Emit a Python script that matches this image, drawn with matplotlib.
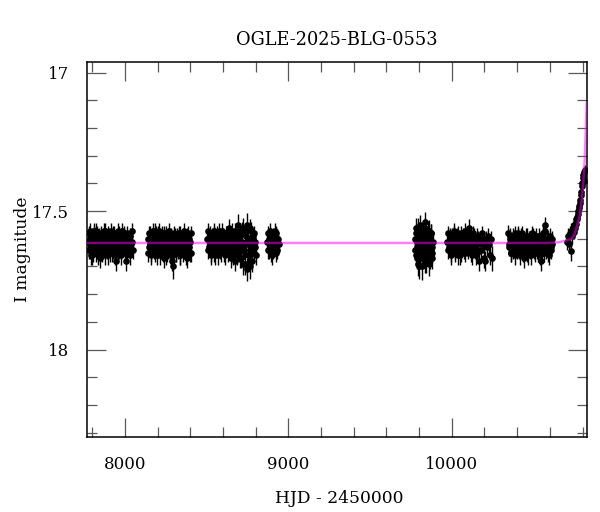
import numpy as np
import matplotlib
matplotlib.use("Agg")
import matplotlib.pyplot as plt
from matplotlib.ticker import MultipleLocator, FuncFormatter

plt.rcParams['font.family'] = ['DejaVu Serif']

# ---------------- data ----------------
# season 1 (two nightly sets)
t1 = [7775, 7781, 7786, 7790, 7795, 7799, 7803, 7808, 7812, 7817, 7821, 7826,
      7832, 7838, 7843, 7849, 7855, 7861, 7866, 7872, 7878, 7884, 7890, 7895,
      7901, 7907, 7913, 7919, 7925, 7931, 7937, 7943, 7949, 7955, 7961, 7967,
      7973, 7979, 7985, 7991, 7997, 8003, 8010, 8017, 8024, 8031, 8038, 8045]
m1 = [17.61, 17.58, 17.64, 17.62, 17.59, 17.66, 17.60, 17.63, 17.57, 17.62, 17.65, 17.60,
      17.58, 17.63, 17.61, 17.67, 17.59, 17.62, 17.64, 17.60, 17.57, 17.63, 17.61, 17.66,
      17.59, 17.62, 17.60, 17.65, 17.58, 17.63, 17.61, 17.68, 17.60, 17.57, 17.64, 17.62,
      17.59, 17.66, 17.61, 17.63, 17.58, 17.62, 17.65, 17.60, 17.63, 17.59, 17.62, 17.61]
e1 = [0.030, 0.028, 0.032, 0.030, 0.027, 0.035, 0.030, 0.031, 0.026, 0.030, 0.034, 0.029,
      0.028, 0.032, 0.030, 0.036, 0.027, 0.030, 0.033, 0.029, 0.026, 0.031, 0.030, 0.035,
      0.028, 0.030, 0.029, 0.034, 0.027, 0.031, 0.030, 0.037, 0.029, 0.026, 0.033, 0.030,
      0.028, 0.035, 0.030, 0.031, 0.027, 0.030, 0.034, 0.029, 0.031, 0.028, 0.030, 0.030]
t1b = [7778, 7784, 7788, 7793, 7797, 7801, 7806, 7810, 7815, 7819, 7824, 7829,
       7835, 7841, 7846, 7852, 7858, 7864, 7869, 7875, 7881, 7887, 7893, 7898,
       7904, 7910, 7916, 7922, 7928, 7934, 7940, 7946, 7952, 7958, 7964, 7970,
       7976, 7982, 7988, 7994, 8000, 8006, 8013, 8020, 8027, 8034, 8041, 8048]
m1b = [17.64, 17.60, 17.57, 17.66, 17.62, 17.59, 17.65, 17.58, 17.63, 17.60, 17.57, 17.64,
       17.66, 17.59, 17.62, 17.58, 17.65, 17.60, 17.57, 17.63, 17.66, 17.59, 17.64, 17.58,
       17.62, 17.65, 17.57, 17.61, 17.64, 17.58, 17.66, 17.60, 17.63, 17.65, 17.58, 17.60,
       17.64, 17.57, 17.62, 17.59, 17.65, 17.68, 17.58, 17.63, 17.60, 17.66, 17.57, 17.64]
e1b = [0.033, 0.029, 0.027, 0.035, 0.030, 0.028, 0.034, 0.027, 0.031, 0.029, 0.026, 0.033,
       0.035, 0.028, 0.030, 0.027, 0.034, 0.029, 0.026, 0.031, 0.035, 0.028, 0.033, 0.027,
       0.030, 0.034, 0.026, 0.030, 0.033, 0.027, 0.035, 0.029, 0.031, 0.034, 0.027, 0.029,
       0.033, 0.026, 0.030, 0.028, 0.034, 0.038, 0.027, 0.031, 0.029, 0.035, 0.026, 0.033]

# season 2
t2 = [8142, 8147, 8152, 8157, 8162, 8167, 8172, 8177, 8182, 8187, 8192, 8197,
      8202, 8207, 8212, 8217, 8222, 8227, 8232, 8237, 8242, 8247, 8252, 8257,
      8262, 8267, 8272, 8277, 8282, 8287, 8292, 8297, 8302, 8307, 8313, 8319,
      8325, 8331, 8337, 8343, 8349, 8355, 8361, 8367, 8373, 8379, 8385, 8391,
      8397, 8403]
m2 = [17.60, 17.63, 17.58, 17.62, 17.65, 17.59, 17.61, 17.64, 17.57, 17.62, 17.60, 17.66,
      17.58, 17.63, 17.61, 17.59, 17.64, 17.62, 17.60, 17.67, 17.58, 17.63, 17.61, 17.65,
      17.59, 17.62, 17.60, 17.64, 17.66, 17.68, 17.70, 17.61, 17.63, 17.59, 17.65, 17.60,
      17.62, 17.58, 17.66, 17.61, 17.63, 17.59, 17.64, 17.60, 17.62, 17.67, 17.58, 17.63,
      17.61, 17.65]
e2 = [0.030, 0.031, 0.027, 0.030, 0.034, 0.028, 0.030, 0.033, 0.026, 0.030, 0.029, 0.035,
      0.027, 0.031, 0.030, 0.028, 0.033, 0.030, 0.029, 0.036, 0.027, 0.031, 0.030, 0.034,
      0.028, 0.030, 0.029, 0.033, 0.035, 0.038, 0.045, 0.030, 0.031, 0.028, 0.034, 0.029,
      0.030, 0.027, 0.035, 0.030, 0.031, 0.028, 0.033, 0.029, 0.030, 0.036, 0.027, 0.031,
      0.030, 0.034]
t2b = [8144, 8149, 8154, 8159, 8164, 8169, 8174, 8179, 8184, 8189, 8194, 8199,
       8204, 8209, 8214, 8219, 8224, 8229, 8234, 8239, 8244, 8249, 8254, 8259,
       8264, 8269, 8274, 8279, 8284, 8289, 8294, 8299, 8304, 8310, 8316, 8322,
       8328, 8334, 8340, 8346, 8352, 8358, 8364, 8370, 8376, 8382, 8388, 8394,
       8400, 8406]
m2b = [17.65, 17.58, 17.62, 17.66, 17.59, 17.63, 17.57, 17.61, 17.65, 17.58, 17.64, 17.60,
       17.63, 17.57, 17.66, 17.62, 17.58, 17.61, 17.65, 17.59, 17.63, 17.66, 17.58, 17.60,
       17.64, 17.57, 17.65, 17.61, 17.59, 17.63, 17.66, 17.58, 17.62, 17.65, 17.59, 17.64,
       17.61, 17.66, 17.58, 17.63, 17.60, 17.65, 17.57, 17.62, 17.66, 17.59, 17.63, 17.60,
       17.65, 17.58]
e2b = [0.034, 0.027, 0.030, 0.035, 0.028, 0.031, 0.026, 0.030, 0.034, 0.027, 0.033, 0.029,
       0.031, 0.026, 0.035, 0.030, 0.027, 0.030, 0.034, 0.028, 0.031, 0.035, 0.027, 0.029,
       0.033, 0.026, 0.034, 0.030, 0.028, 0.031, 0.035, 0.027, 0.030, 0.034, 0.028, 0.033,
       0.030, 0.035, 0.027, 0.031, 0.029, 0.034, 0.026, 0.030, 0.035, 0.028, 0.031, 0.029,
       0.034, 0.027]

# season 3
t3 = [8503, 8509, 8515, 8521, 8527, 8533, 8539, 8545, 8551, 8557, 8563, 8569,
      8575, 8581, 8587, 8593, 8599, 8605, 8611, 8617, 8623, 8629, 8635, 8641,
      8647, 8653, 8659, 8665, 8671, 8677, 8683, 8689, 8695, 8701, 8707, 8713,
      8719, 8725, 8731, 8737, 8743, 8749, 8755, 8761, 8767, 8773, 8779, 8785,
      8791, 8797]
m3 = [17.60, 17.57, 17.63, 17.61, 17.65, 17.59, 17.62, 17.58, 17.66, 17.60, 17.63, 17.61,
      17.57, 17.64, 17.60, 17.62, 17.59, 17.65, 17.61, 17.58, 17.63, 17.60, 17.56, 17.64,
      17.62, 17.59, 17.66, 17.61, 17.57, 17.63, 17.60, 17.55, 17.65, 17.62, 17.58, 17.67,
      17.61, 17.56, 17.64, 17.69, 17.59, 17.55, 17.66, 17.62, 17.70, 17.57, 17.64, 17.60,
      17.58, 17.63]
e3 = [0.030, 0.027, 0.031, 0.030, 0.034, 0.028, 0.030, 0.027, 0.035, 0.029, 0.031, 0.030,
      0.026, 0.033, 0.029, 0.030, 0.028, 0.034, 0.030, 0.027, 0.031, 0.029, 0.030, 0.033,
      0.030, 0.028, 0.035, 0.030, 0.026, 0.031, 0.029, 0.040, 0.034, 0.030, 0.027, 0.036,
      0.030, 0.035, 0.033, 0.040, 0.028, 0.042, 0.035, 0.030, 0.045, 0.030, 0.033, 0.029,
      0.027, 0.031]
t3b = [8506, 8512, 8518, 8524, 8530, 8536, 8542, 8548, 8554, 8560, 8566, 8572,
       8578, 8584, 8590, 8596, 8602, 8608, 8614, 8620, 8626, 8632, 8638, 8644,
       8650, 8656, 8662, 8668, 8674, 8680, 8686, 8692, 8698, 8704, 8710, 8716,
       8722, 8728, 8734, 8740, 8746, 8752, 8758, 8764, 8770, 8776, 8782, 8788,
       8794, 8800]
m3b = [17.64, 17.60, 17.58, 17.66, 17.61, 17.63, 17.57, 17.65, 17.59, 17.62, 17.58, 17.66,
       17.63, 17.59, 17.65, 17.57, 17.62, 17.60, 17.66, 17.63, 17.58, 17.65, 17.61, 17.59,
       17.67, 17.57, 17.62, 17.64, 17.68, 17.58, 17.66, 17.62, 17.59, 17.67, 17.63, 17.57,
       17.69, 17.64, 17.58, 17.62, 17.71, 17.60, 17.66, 17.56, 17.63, 17.68, 17.59, 17.65,
       17.61, 17.66]
e3b = [0.033, 0.029, 0.027, 0.035, 0.030, 0.031, 0.026, 0.034, 0.028, 0.030, 0.027, 0.035,
       0.031, 0.028, 0.034, 0.026, 0.030, 0.029, 0.035, 0.031, 0.027, 0.034, 0.030, 0.028,
       0.036, 0.027, 0.030, 0.033, 0.037, 0.027, 0.035, 0.031, 0.029, 0.037, 0.032, 0.030,
       0.039, 0.034, 0.029, 0.032, 0.042, 0.031, 0.036, 0.033, 0.032, 0.039, 0.029, 0.034,
       0.030, 0.035]

# season 4
t4 = [8870, 8876, 8882, 8888, 8894, 8900, 8906, 8912, 8918, 8924, 8930, 8936, 8940]
m4 = [17.61, 17.58, 17.64, 17.62, 17.59, 17.66, 17.60, 17.63, 17.57, 17.65, 17.61, 17.60, 17.62]
e4 = [0.030, 0.028, 0.032, 0.030, 0.028, 0.034, 0.029, 0.031, 0.027, 0.033, 0.030, 0.029, 0.030]
t4b = [8873, 8879, 8885, 8891, 8897, 8903, 8909, 8915, 8921, 8927, 8933]
m4b = [17.64, 17.60, 17.57, 17.65, 17.62, 17.59, 17.64, 17.61, 17.63, 17.58, 17.64]
e4b = [0.032, 0.029, 0.027, 0.033, 0.030, 0.028, 0.032, 0.030, 0.031, 0.027, 0.032]

# season 5
t5 = [9775, 9779, 9783, 9787, 9791, 9795, 9799, 9803, 9807, 9811, 9815, 9819,
      9823, 9827, 9831, 9835, 9839, 9843, 9847, 9851, 9855, 9859, 9863, 9867,
      9871, 9875, 9879, 9883]
m5 = [17.60, 17.66, 17.56, 17.63, 17.69, 17.58, 17.62, 17.67, 17.55, 17.64, 17.60, 17.70,
      17.57, 17.65, 17.61, 17.68, 17.54, 17.63, 17.59, 17.66, 17.62, 17.57, 17.69, 17.60,
      17.64, 17.58, 17.67, 17.61]
e5 = [0.035, 0.040, 0.034, 0.036, 0.045, 0.033, 0.036, 0.040, 0.035, 0.037, 0.034, 0.048,
      0.033, 0.038, 0.035, 0.042, 0.036, 0.036, 0.034, 0.039, 0.036, 0.038, 0.044, 0.035,
      0.037, 0.034, 0.040, 0.035]
t5b = [9777, 9781, 9785, 9789, 9793, 9797, 9801, 9805, 9809, 9813, 9817, 9821,
       9825, 9829, 9833, 9837, 9841, 9845, 9849, 9853, 9857, 9861, 9865, 9869,
       9873, 9877, 9881]
m5b = [17.64, 17.58, 17.67, 17.61, 17.56, 17.65, 17.70, 17.60, 17.63, 17.58, 17.67, 17.62,
       17.66, 17.59, 17.56, 17.63, 17.68, 17.61, 17.65, 17.57, 17.60, 17.64, 17.62, 17.67,
       17.58, 17.63, 17.65]
e5b = [0.037, 0.034, 0.040, 0.035, 0.034, 0.038, 0.046, 0.035, 0.036, 0.033, 0.040, 0.035,
       0.039, 0.034, 0.036, 0.036, 0.042, 0.035, 0.038, 0.034, 0.035, 0.044, 0.036, 0.040,
       0.034, 0.036, 0.038]

# season 6
t6 = [9972, 9978, 9984, 9990, 9996, 10002, 10008, 10014, 10020, 10026, 10032, 10038,
      10044, 10050, 10056, 10062, 10068, 10074, 10080, 10086, 10092, 10098, 10104, 10110,
      10116, 10122, 10128, 10134, 10140, 10146, 10152, 10158, 10164, 10170, 10176, 10182,
      10188, 10194, 10200, 10206, 10212, 10218, 10224, 10230, 10236, 10242, 10248]
m6 = [17.61, 17.58, 17.63, 17.60, 17.65, 17.59, 17.62, 17.57, 17.64, 17.61, 17.59, 17.63,
      17.60, 17.66, 17.58, 17.62, 17.60, 17.64, 17.57, 17.61, 17.63, 17.59, 17.56, 17.62,
      17.65, 17.60, 17.58, 17.63, 17.61, 17.66, 17.59, 17.62, 17.68, 17.60, 17.64, 17.58,
      17.62, 17.67, 17.61, 17.68, 17.60, 17.63, 17.59, 17.62, 17.66, 17.60, 17.67]
e6 = [0.030, 0.027, 0.031, 0.029, 0.033, 0.028, 0.030, 0.026, 0.032, 0.030, 0.028, 0.031,
      0.029, 0.034, 0.027, 0.030, 0.029, 0.032, 0.026, 0.030, 0.031, 0.028, 0.030, 0.030,
      0.033, 0.029, 0.027, 0.031, 0.030, 0.034, 0.028, 0.030, 0.036, 0.029, 0.032, 0.027,
      0.030, 0.035, 0.030, 0.037, 0.029, 0.031, 0.028, 0.030, 0.034, 0.029, 0.045]
t6b = [9975, 9981, 9987, 9993, 9999, 10005, 10011, 10017, 10023, 10029, 10035, 10041,
       10047, 10053, 10059, 10065, 10071, 10077, 10083, 10089, 10095, 10101, 10107, 10113,
       10119, 10125, 10131, 10137, 10143, 10149, 10155, 10161]
m6b = [17.64, 17.61, 17.59, 17.66, 17.62, 17.63, 17.58, 17.65, 17.60, 17.63, 17.66, 17.58,
       17.62, 17.60, 17.65, 17.63, 17.59, 17.61, 17.65, 17.62, 17.58, 17.64, 17.61, 17.58,
       17.63, 17.66, 17.61, 17.59, 17.64, 17.62, 17.65, 17.60]
e6b = [0.032, 0.030, 0.028, 0.034, 0.030, 0.031, 0.027, 0.033, 0.029, 0.031, 0.034, 0.027,
       0.030, 0.029, 0.033, 0.031, 0.028, 0.030, 0.033, 0.030, 0.027, 0.032, 0.030, 0.027,
       0.031, 0.034, 0.030, 0.028, 0.032, 0.030, 0.033, 0.029]

# season 7
t7 = [10345, 10351, 10357, 10363, 10369, 10375, 10381, 10387, 10393, 10399, 10405, 10411,
      10417, 10423, 10429, 10435, 10441, 10447, 10453, 10459, 10465, 10471, 10477, 10483,
      10489, 10495, 10501, 10507, 10513, 10519, 10525, 10531, 10537, 10543, 10549, 10555,
      10561, 10567, 10573, 10579, 10585, 10591, 10597, 10603, 10609, 10615]
m7 = [17.58, 17.62, 17.60, 17.65, 17.61, 17.59, 17.63, 17.66, 17.60, 17.62, 17.58, 17.64,
      17.61, 17.59, 17.63, 17.60, 17.67, 17.62, 17.59, 17.65, 17.61, 17.63, 17.60, 17.66,
      17.58, 17.62, 17.64, 17.60, 17.63, 17.61, 17.65, 17.59, 17.62, 17.68, 17.60, 17.63,
      17.58, 17.61, 17.57, 17.64, 17.62, 17.60, 17.66, 17.61, 17.63, 17.60]
e7 = [0.030, 0.030, 0.029, 0.033, 0.030, 0.028, 0.031, 0.034, 0.029, 0.030, 0.027, 0.032,
      0.030, 0.028, 0.031, 0.029, 0.036, 0.030, 0.028, 0.033, 0.030, 0.031, 0.029, 0.034,
      0.027, 0.030, 0.032, 0.029, 0.031, 0.030, 0.033, 0.028, 0.030, 0.037, 0.029, 0.031,
      0.027, 0.030, 0.030, 0.032, 0.030, 0.029, 0.034, 0.030, 0.031, 0.029]
t7b = [10348, 10354, 10360, 10366, 10372, 10378, 10384, 10390, 10396, 10402, 10408, 10414,
       10420, 10426, 10432, 10438, 10444, 10450, 10456, 10462, 10468, 10474, 10480, 10486,
       10492, 10498, 10504, 10510, 10516, 10522, 10528, 10534, 10540, 10546, 10552, 10558,
       10564, 10570, 10576, 10582, 10588, 10594, 10600, 10606, 10612]
m7b = [17.63, 17.59, 17.65, 17.61, 17.64, 17.62, 17.58, 17.60, 17.64, 17.59, 17.63, 17.60,
       17.66, 17.62, 17.58, 17.65, 17.61, 17.64, 17.62, 17.59, 17.66, 17.60, 17.64, 17.61,
       17.63, 17.59, 17.61, 17.65, 17.59, 17.64, 17.61, 17.63, 17.66, 17.60, 17.64, 17.59,
       17.65, 17.55, 17.62, 17.60, 17.65, 17.63, 17.59, 17.64, 17.62]
e7b = [0.031, 0.028, 0.033, 0.030, 0.032, 0.030, 0.027, 0.029, 0.032, 0.028, 0.031, 0.029,
       0.034, 0.030, 0.027, 0.033, 0.030, 0.032, 0.030, 0.028, 0.034, 0.029, 0.032, 0.030,
       0.031, 0.028, 0.030, 0.033, 0.028, 0.032, 0.030, 0.031, 0.034, 0.029, 0.032, 0.028,
       0.033, 0.030, 0.030, 0.029, 0.033, 0.031, 0.028, 0.032, 0.030]

# season 8 (rising part of the event)
t8 = [10705, 10712, 10718, 10722, 10728, 10732, 10737, 10741, 10745, 10749, 10753, 10757,
      10761, 10765, 10768, 10772, 10775, 10778, 10781, 10784, 10787, 10790, 10793, 10796,
      10799, 10802, 10805, 10808, 10810, 10812]
m8 = [17.61, 17.59, 17.62, 17.58, 17.645, 17.57, 17.59, 17.56, 17.575, 17.55, 17.56, 17.53,
      17.545, 17.52, 17.53, 17.50, 17.51, 17.48, 17.49, 17.46, 17.47, 17.44, 17.43, 17.41,
      17.40, 17.38, 17.37, 17.36, 17.39, 17.35]
e8 = [0.030, 0.028, 0.030, 0.027, 0.036, 0.026, 0.028, 0.026, 0.027, 0.025, 0.026, 0.024,
      0.025, 0.024, 0.024, 0.023, 0.023, 0.022, 0.022, 0.021, 0.021, 0.020, 0.020, 0.019,
      0.019, 0.018, 0.018, 0.018, 0.018, 0.017]

# model light curve
model_t = [7700, 10600, 10660, 10700, 10733, 10750, 10763, 10775, 10784, 10795,
           10804, 10810, 10814, 10818, 10822, 10826]
model_m = [17.615, 17.615, 17.612, 17.606, 17.600, 17.585, 17.560, 17.535, 17.510, 17.460,
           17.400, 17.350, 17.307, 17.240, 17.170, 17.110]

hjd = np.concatenate([t1, t1b, t2, t2b, t3, t3b, t4, t4b, t5, t5b, t6, t6b, t7, t7b, t8])
mag = np.concatenate([m1, m1b, m2, m2b, m3, m3b, m4, m4b, m5, m5b, m6, m6b, m7, m7b, m8])
err = np.concatenate([e1, e1b, e2, e2b, e3, e3b, e4, e4b, e5, e5b, e6, e6b, e7, e7b, e8])

# ---------------- plot ----------------
fig = plt.figure(figsize=(6, 5.12), dpi=100)
ax = fig.add_axes([0.145, 0.1465, 0.833, 0.7325])

ax.errorbar(hjd, mag, yerr=err, fmt='o', color='black', ms=4.8, mew=0,
            ecolor='black', elinewidth=1.0, capsize=2.3, capthick=1.0, zorder=2)
ax.plot(model_t, model_m, color='magenta', alpha=0.5, lw=1.8, zorder=3)

ax.set_xlim(7768, 10826)
ax.set_ylim(18.316, 16.961)

ax.xaxis.set_major_locator(MultipleLocator(1000))
ax.xaxis.set_minor_locator(MultipleLocator(200))
ax.yaxis.set_major_locator(MultipleLocator(0.5))
ax.yaxis.set_minor_locator(MultipleLocator(0.1))
ax.yaxis.set_major_formatter(FuncFormatter(lambda v, p: '%g' % v))

ax.tick_params(which='both', direction='in', top=True, right=True,
               color='0.35', width=0.9, labelsize=12)
ax.tick_params(which='major', length=13.5)
ax.tick_params(which='minor', length=7)
ax.tick_params(axis='x', which='major', pad=14)
ax.tick_params(axis='y', which='major', pad=13)
for s in ax.spines.values():
    s.set_linewidth(1.1)

ax.set_title("OGLE-2025-BLG-0553", fontsize=12.8, pad=12)
ax.set_xlabel("HJD - 2450000", fontsize=12.3)
ax.set_ylabel("I magnitude", fontsize=12.3)
ax.xaxis.set_label_coords(0.504, -0.142)
ax.yaxis.set_label_coords(-0.112, 0.5)

fig.savefig("out.png", dpi=100)
